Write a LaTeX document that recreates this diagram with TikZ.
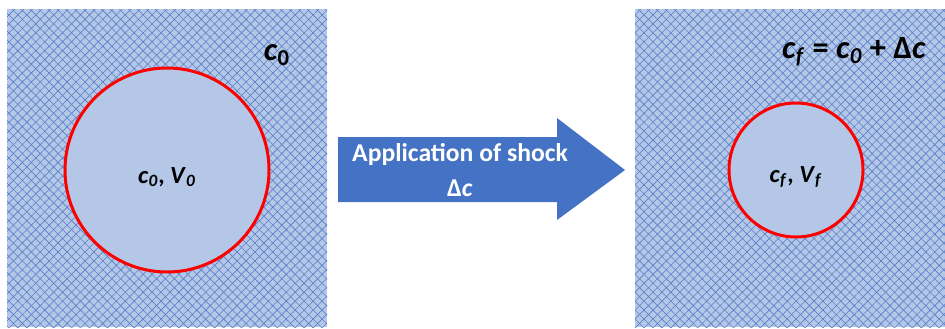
\documentclass[tikz,border=0pt]{standalone}
\usepackage{fontspec}
\setmainfont{Carlito}
\usetikzlibrary{patterns.meta,positioning}
\definecolor{officeblue}{HTML}{4472C4}
\definecolor{paleblue}{HTML}{B4C7E7}
\definecolor{rimred}{HTML}{FF0000}
\newcommand{\sym}[2]{\textit{#1}\textsubscript{\textit{#2}}}
\begin{document}
\begin{tikzpicture}[
  x=0.02cm, y=-0.02cm,
  medium/.style={fill=paleblue, postaction={pattern={Lines[angle=45, distance=3.6pt, line width=0.35pt]}, pattern color=officeblue!90},
                 postaction={pattern={Lines[angle=-45, distance=3.6pt, line width=0.35pt]}, pattern color=officeblue!90}},
  cell/.style={circle, draw=rimred, line width=1.7pt, fill=paleblue, inner sep=0pt},
  tag/.style={font=\fontsize{18.5}{22}\selectfont\bfseries, text=black},
  inner/.style={font=\fontsize{14}{17}\selectfont\bfseries, text=black}
]
\useasboundingbox (0,0) rectangle (945,328);
% initial state
\path[medium] (7,9) rectangle (327,327);
\node[cell, minimum size=204*0.02cm] (cell0) at (167,170) {};
\node[inner] (lab0) at (167,177) {\sym{c}{0}, \sym{V}{0}};
\node[tag] (conc0) at (277,55) {\textit{c}\textsubscript{0}};
% block arrow
\fill[officeblue] (338,137) -- (557,137) -- (557,118) -- (625,170) -- (557,220) -- (557,202) -- (338,202) -- cycle;
\node[font=\fontsize{14.6}{20}\selectfont\bfseries, text=white, align=center] (shock) at (460,170)
     {Application of shock\\Δ\textit{c}};
% final state
\path[medium] (635,9) rectangle (945,327);
\node[cell, minimum size=134*0.02cm] (cellf) at (796,170) {};
\node[inner] (labf) at (796,177) {\sym{c}{f}, \sym{V}{f}};
\node[tag] (concf) at (854,52) {\sym{c}{f} = \sym{c}{0} + Δ\textit{c}};
\end{tikzpicture}
\end{document}
